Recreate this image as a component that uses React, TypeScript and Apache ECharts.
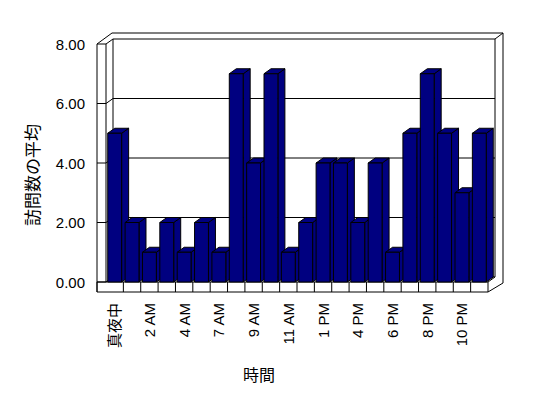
import React, { useEffect, useRef } from "react";
import * as echarts from "echarts";

const categories = [
  "真夜中", "1 AM", "2 AM", "3 AM", "4 AM", "5 AM", "7 AM", "8 AM", "9 AM", "10 AM", "11 AM",
  "正午", "1 PM", "2 PM", "4 PM", "5 PM", "6 PM", "7 PM", "8 PM", "9 PM", "10 PM", "11 PM",
];
const visits = [5, 2, 1, 2, 1, 2, 1, 7, 4, 7, 1, 2, 4, 4, 2, 4, 1, 5, 7, 5, 3, 5];
const yTicks = [0, 2, 4, 6, 8];
const yTitle = "訪問数の平均";
const xTitle = "時間";

const DX = 7;
const DY = -5;
const WALL = 9;
const FLOOR = 10;
const LINE = { stroke: "#000", lineWidth: 1, fill: "none" };

export default function App() {
  const ref = useRef<HTMLDivElement>(null);
  useEffect(() => {
    if (!ref.current) return;
    const chart = echarts.init(ref.current, undefined, { renderer: "svg" });
    const ln = (x1: number, y1: number, x2: number, y2: number) => ({
      type: "line",
      shape: { x1, y1, x2, y2 },
      style: { ...LINE },
    });
    const option: any = {
      animation: false,
      backgroundColor: "#fff",
      grid: { left: 106, right: 60, top: 44, bottom: 116, containLabel: false },
      xAxis: {
        type: "category",
        data: categories,
        boundaryGap: true,
        axisLine: { show: false },
        axisTick: { show: false },
        splitLine: { show: false },
        axisLabel: {
          interval: 1,
          rotate: 90,
          margin: 21,
          color: "#000",
          fontFamily: '"Liberation Sans", "Noto Sans CJK JP", sans-serif',
          fontSize: 15,
        },
      },
      yAxis: {
        type: "value",
        min: 0,
        max: 8,
        interval: 2,
        axisLine: { show: false },
        axisTick: { show: false },
        splitLine: { show: false },
        axisLabel: {
          margin: 21,
          color: "#000",
          fontFamily: "Liberation Sans",
          fontSize: 15,
          formatter: (v: number) => v.toFixed(2),
        },
      },
      graphic: [
        {
          type: "text",
          x: 31,
          y: 175,
          rotation: Math.PI / 2,
          style: {
            text: yTitle,
            fill: "#000",
            font: '17px "Noto Sans CJK JP"',
            align: "center",
            verticalAlign: "middle",
          },
        },
        {
          type: "text",
          x: 259,
          y: 374,
          style: {
            text: xTitle,
            fill: "#000",
            font: '16px "Noto Sans CJK JP"',
            align: "center",
            verticalAlign: "middle",
          },
        },
      ],
      series: [
        {
          type: "custom",
          name: "frame",
          z: 1,
          clip: false,
          silent: true,
          data: [[0, 0]],
          renderItem: (params: any) => {
            const cs = params.coordSys;
            const L = cs.x, T = cs.y, R = cs.x + cs.width, B = cs.y + cs.height;
            const cw = cs.width / categories.length;
            const children: any[] = [
              {
                type: "rect",
                shape: { x: L - WALL, y: B, width: R - (L - WALL), height: FLOOR },
                style: { fill: "#fff", stroke: "#000", lineWidth: 1 },
              },
              ln(L - WALL, T, L - WALL, B + FLOOR),
              ln(L, T, L, B),
              ln(L + DX, T + DY, L + DX, B + DY),
              ln(R + DX, T + DY, R + DX, B + DY),
              ln(L - WALL, T, L + 6, T - 11),
              ln(L + 6, T - 11, R + 15, T - 11),
              ln(R + DX, T + DY, R + 15, T - 11),
              ln(R + 15, T - 11, R + 15, B + 1),
              ln(R + 15, B + 1, R, B + FLOOR),
              ln(R, B, R + DX, B + DY),
            ];
            for (let k = 1; k < categories.length; k++) {
              children.push(ln(L + k * cw, B, L + k * cw, B + FLOOR));
            }
            return { type: "group", children };
          },
        },
        {
          type: "custom",
          name: "grid",
          z: 1,
          clip: false,
          silent: true,
          data: yTicks.map((v) => [0, v]),
          renderItem: (params: any, api: any) => {
            const cs = params.coordSys;
            const L = cs.x, R = cs.x + cs.width;
            const fy = api.coord([0, api.value(1)])[1];
            return {
              type: "group",
              children: [
                ln(L - WALL, fy, L, fy),
                ln(L, fy, L + DX, fy + DY),
                ln(L + DX, fy + DY, R + DX, fy + DY),
              ],
            };
          },
        },
        {
          type: "custom",
          name: "訪問数の平均",
          z: 3,
          clip: false,
          data: visits.map((v, i) => [i, v]),
          renderItem: (params: any, api: any) => {
            const i = api.value(0);
            const v = api.value(1);
            const top = api.coord([i, v]);
            const base = api.coord([i, 0]);
            const w = api.size([1, 0])[0] * 0.8;
            const x0 = top[0] - w / 2;
            const x1 = top[0] + w / 2;
            const yT = top[1];
            const yB = base[1];
            const st = { fill: "#000080", stroke: "#000", lineWidth: 1 };
            return {
              type: "group",
              children: [
                {
                  type: "polygon",
                  shape: { points: [[x1, yT], [x1 + DX, yT + DY], [x1 + DX, yB + DY], [x1, yB]] },
                  style: st,
                },
                {
                  type: "polygon",
                  shape: { points: [[x0, yT], [x0 + DX, yT + DY], [x1 + DX, yT + DY], [x1, yT]] },
                  style: st,
                },
                { type: "rect", shape: { x: x0, y: yT, width: w, height: yB - yT }, style: st },
              ],
            };
          },
        },
      ],
    };
    chart.setOption(option);
    return () => chart.dispose();
  }, []);
  return (
    <div
      ref={ref}
      style={{ position: "fixed", left: 0, top: 0, width: 548, height: 398, background: "#fff" }}
    />
  );
}
